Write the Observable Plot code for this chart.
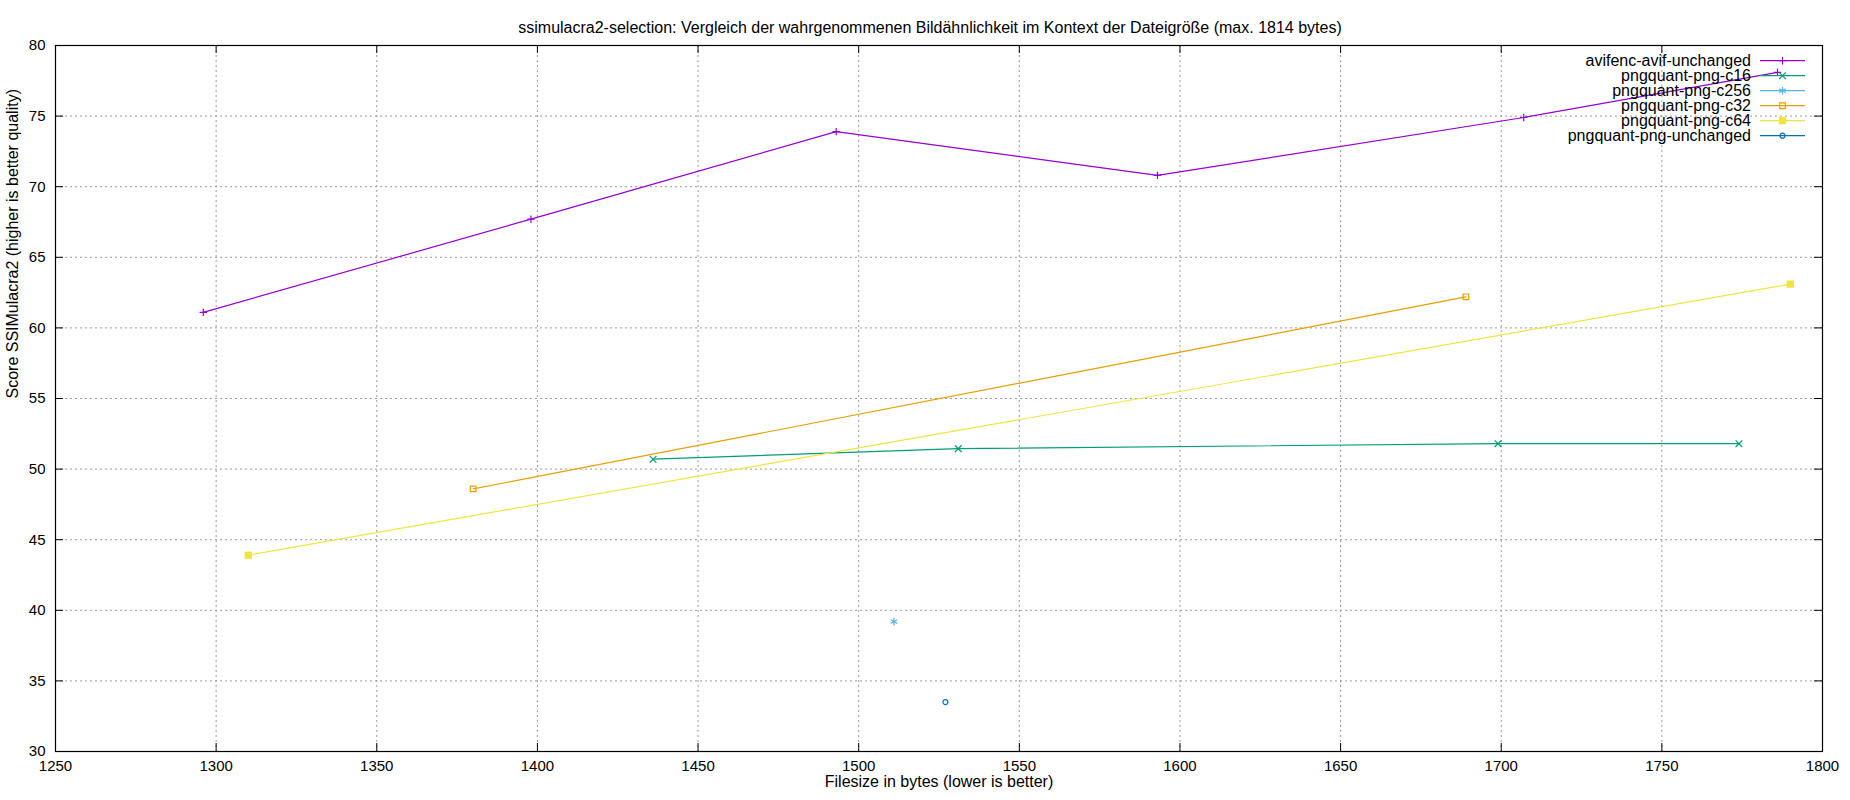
<!DOCTYPE html>
<html><head><meta charset="utf-8">
<script src="https://cdn.jsdelivr.net/npm/d3@7"></script>
<script src="https://cdn.jsdelivr.net/npm/@observablehq/plot@0.6"></script>
<style>
html,body{margin:0;padding:0;background:#fff;}
#chart{width:1850px;height:800px;}
</style></head>
<body><div id="chart"></div>
<script>
// ---- data ----
const titleText = "ssimulacra2-selection: Vergleich der wahrgenommenen Bildähnlichkeit im Kontext der Dateigröße (max. 1814 bytes)";
const xLabel = "Filesize in bytes (lower is better)";
const yLabel = "Score SSIMulacra2 (higher is better quality)";

const seriesNames = ["avifenc-avif-unchanged","pngquant-png-c16","pngquant-png-c256","pngquant-png-c32","pngquant-png-c64","pngquant-png-unchanged"];
const seriesColors = ["#9400d3","#009e73","#56b4e9","#e69f00","#f0e442","#0072b2"];

const avifSize = [1296, 1398, 1493, 1593, 1707, 1786];
const avifScore = [61.1, 67.7, 73.9, 70.8, 74.9, 78.1];
const c16Size = [1436, 1531, 1699, 1774];
const c16Score = [50.7, 51.45, 51.8, 51.8];
const c256Size = [1511];
const c256Score = [39.2];
const c32Size = [1380, 1689];
const c32Score = [48.6, 62.2];
const c64Size = [1310, 1790];
const c64Score = [43.9, 63.1];
const unchangedSize = [1527];
const unchangedScore = [33.5];

const xTicks = [1250,1300,1350,1400,1450,1500,1550,1600,1650,1700,1750,1800];
const yTicks = [30,35,40,45,50,55,60,65,70,75,80];

// ---- build ----
const sizes = [avifSize, c16Size, c256Size, c32Size, c64Size, unchangedSize];
const scores = [avifScore, c16Score, c256Score, c32Score, c64Score, unchangedScore];
const rows = [];
seriesNames.forEach((s, i) => sizes[i].forEach((v, j) => rows.push({series: s, idx: i, size: v, score: scores[i][j]})));

const W = 1850, H = 800;
const mT = 45, mB = 49, mL = 55, mR = 28;
const frameW = W - mL - mR, frameH = H - mT - mB;
const font = "'Liberation Sans', Arial, sans-serif";

// symbol styles: [d3 symbol, area, filled]
const symDefs = [
  [d3.symbolPlus, 20, false],
  [d3.symbolTimes, 31, false],
  [d3.symbolAsterisk, 40, false],
  [d3.symbolSquare, 32, false],
  [d3.symbolSquare, 53, true],
  [d3.symbolCircle, 20, false]
];
const plotSymbolNames = ["plus","times","asterisk","square","square","circle"];

const lineMarks = [], dotMarks = [];
seriesNames.forEach((s, i) => {
  const data = rows.filter(r => r.idx === i);
  if (data.length > 1) lineMarks.push(Plot.line(data, {x: "size", y: "score", stroke: seriesColors[i], strokeWidth: 1.2}));
  const [_, area, filled] = symDefs[i];
  dotMarks.push(Plot.dot(data, {
    x: "size", y: "score", symbol: () => plotSymbolNames[i], r: Math.sqrt(area / Math.PI),
    fill: filled ? seriesColors[i] : "none",
    stroke: filled ? "none" : seriesColors[i],
    strokeWidth: 1.2
  }));
});

const gridStyle = {stroke: "#9a9a9a", strokeOpacity: 1, strokeDasharray: "2,3", strokeWidth: 1};

const chart = Plot.plot({
  width: W, height: H,
  marginTop: mT, marginBottom: mB, marginLeft: mL, marginRight: mR,
  x: {domain: [1250, 1800]},
  y: {domain: [30, 80]},
  style: {fontFamily: font, fontSize: "15px", background: "#fff", color: "#000"},
  marks: [
    Plot.gridX(xTicks, gridStyle),
    Plot.gridY(yTicks, gridStyle),
    ...lineMarks,
    ...dotMarks,
    Plot.tickX(xTicks, {x: d => d, insetTop: frameH - 8, stroke: "#000"}),
    Plot.tickX(xTicks, {x: d => d, insetBottom: frameH - 8, stroke: "#000"}),
    Plot.tickY(yTicks, {y: d => d, insetRight: frameW - 8, stroke: "#000"}),
    Plot.tickY(yTicks, {y: d => d, insetLeft: frameW - 8, stroke: "#000"}),
    Plot.frame({stroke: "#000", strokeWidth: 1.2}),
    Plot.axisX(xTicks, {anchor: "bottom", tickSize: 0, tickPadding: 9, label: null, fill: "#000", tickFormat: d => String(d)}),
    Plot.axisY(yTicks, {anchor: "left", tickSize: 0, tickPadding: 10, label: null, fill: "#000", tickFormat: d => String(d)}),
    Plot.text([titleText], {text: d => d, frameAnchor: "top", dy: -24, dx: -9, fontSize: 16, fill: "#000"}),
    Plot.text([xLabel], {text: d => d, frameAnchor: "bottom", dy: 35, fontSize: 16, fill: "#000"}),
    Plot.text([yLabel], {text: d => d, frameAnchor: "left", dx: -43, rotate: -90, fontSize: 16, fill: "#000"})
  ]
});
document.getElementById("chart").appendChild(chart);

// ---- legend (key box, top right inside frame) ----
const svg = d3.select(chart);
const lg = svg.append("g").attr("font-family", font).attr("font-size", 16);
const right = W - mR;
seriesNames.forEach((name, i) => {
  const yy = mT + 15.7 + 15 * i;
  lg.append("text").attr("x", right - 71).attr("y", yy).attr("dy", "0.36em")
    .attr("text-anchor", "end").attr("fill", "#000").text(name);
  lg.append("line").attr("x1", right - 62).attr("x2", right - 17).attr("y1", yy).attr("y2", yy)
    .attr("stroke", seriesColors[i]).attr("stroke-width", 1.2);
  const [type, area, filled] = symDefs[i];
  lg.append("path").attr("transform", `translate(${right - 39.5},${yy})`)
    .attr("d", d3.symbol(type, area)())
    .attr("fill", filled ? seriesColors[i] : "none")
    .attr("stroke", filled ? "none" : seriesColors[i]).attr("stroke-width", 1.2);
});
</script>
</body></html>
